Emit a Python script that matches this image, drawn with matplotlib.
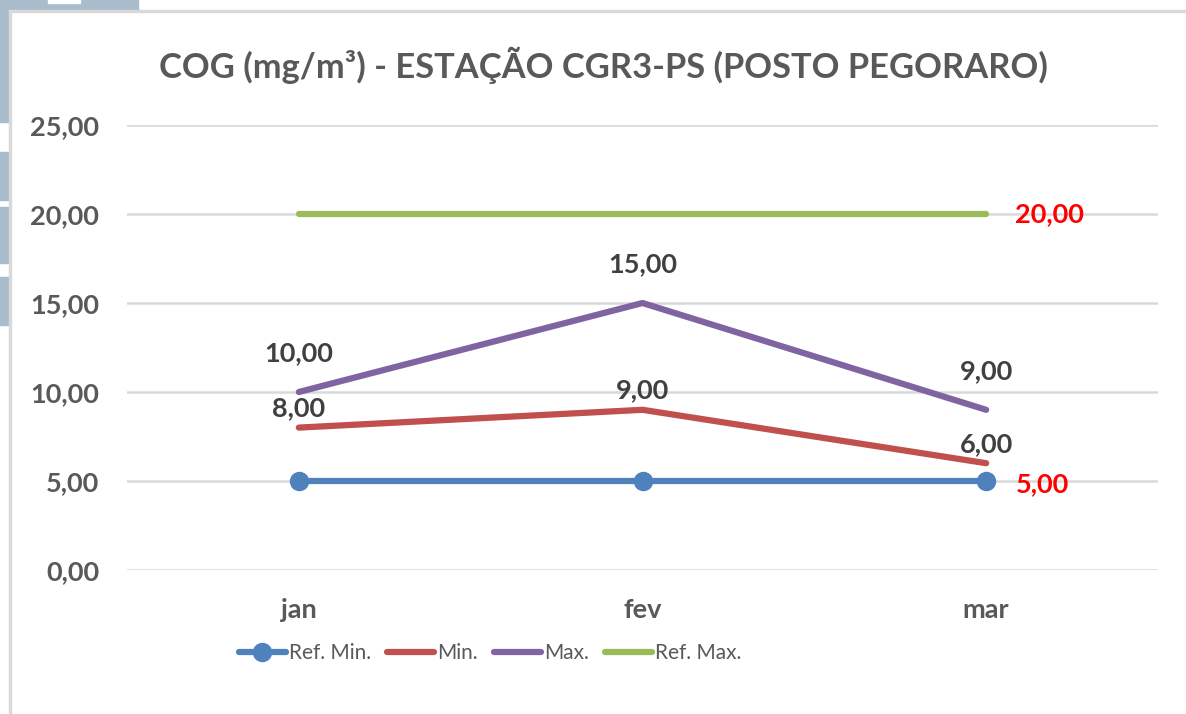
import matplotlib.pyplot as plt
from matplotlib.patches import Rectangle

# data
months = ["jan", "fev", "mar"]
ref_min = [5.0, 5.0, 5.0]
val_min = [8.0, 9.0, 6.0]
val_max = [10.0, 15.0, 9.0]
ref_max = [20.0, 20.0, 20.0]
y_ticks = [0, 5, 10, 15, 20, 25]

title = "COG (mg/m³) - ESTAÇÃO CGR3-PS (POSTO PEGORARO)"

BLUE = "#4F81BD"
RED = "#C0504D"
PURPLE = "#8064A2"
GREEN = "#9BBB59"
GRID = "#D9D9D9"
TXT = "#595959"
LBL = "#404040"

plt.rcParams["font.family"] = ["Lato", "DejaVu Sans"]

W, H = 1186, 714
fig = plt.figure(figsize=(W / 100, H / 100), dpi=100)

# screenshot background bits (blue-gray strip on the left / top-left)
bg = "#A9BCCB"
def px_rect(x0, y0, x1, y1, color):
    fig.patches.append(Rectangle((x0 / W, 1 - y1 / H), (x1 - x0) / W, (y1 - y0) / H,
                                 transform=fig.transFigure, color=color, zorder=0))

px_rect(0, 0, 138, 11, bg)
px_rect(48, 0, 80, 3, "white")
px_rect(0, 0, 9, 122, bg)
px_rect(0, 152, 9, 200, bg)
px_rect(0, 207, 9, 263, bg)
px_rect(0, 277, 9, 325, bg)
# chart frame
px_rect(9, 10, W, 12, GRID)
px_rect(9, 10, 11, H, GRID)

ax = fig.add_axes([127 / W, 1 - 570 / H, (1158 - 127) / W, (570 - 125) / H])
ax.set_facecolor("none")
x = list(range(len(months)))

ax.plot(x, ref_min, color=BLUE, lw=4.5, marker="o", ms=13, solid_capstyle="round",
        label="Ref. Min.", zorder=3)
ax.plot(x, val_min, color=RED, lw=4.5, solid_capstyle="round", label="Min.", zorder=3)
ax.plot(x, val_max, color=PURPLE, lw=4.5, solid_capstyle="round", label="Max.", zorder=3)
ax.plot(x, ref_max, color=GREEN, lw=4.5, solid_capstyle="round", label="Ref. Max.", zorder=3)

def fmt(v):
    return f"{v:.2f}".replace(".", ",")

for xi, v in zip(x, val_max):
    ax.annotate(fmt(v), (xi, v), xytext=(0, 28), textcoords="offset points",
                ha="center", va="center", fontsize=19.5, fontweight="bold", color=LBL)
for xi, v in zip(x, val_min):
    ax.annotate(fmt(v), (xi, v), xytext=(0, 14), textcoords="offset points",
                ha="center", va="center", fontsize=19.5, fontweight="bold", color=LBL)

# reference limits labelled at the right end
ax.annotate(fmt(ref_max[-1]), (x[-1], ref_max[-1]), xytext=(21, 0), textcoords="offset points",
            ha="left", va="center", fontsize=19.5, fontweight="bold", color="#FF0000")
ax.annotate(fmt(ref_min[-1]), (x[-1], ref_min[-1]), xytext=(21, -2), textcoords="offset points",
            ha="left", va="center", fontsize=19.5, fontweight="bold", color="#FF0000")

ax.set_xlim(-0.5, 2.5)
ax.set_ylim(0, 25)
ax.set_yticks(y_ticks)
ax.set_yticklabels([fmt(v) for v in y_ticks])
ax.set_xticks(x)
ax.set_xticklabels(months)
ax.grid(axis="y", color=GRID, lw=1.8)
ax.set_axisbelow(True)
for s in ax.spines.values():
    s.set_visible(False)
ax.tick_params(axis="both", length=0, labelsize=19.5, labelcolor=TXT)
ax.tick_params(axis="y", pad=20)
ax.tick_params(axis="x", pad=20)
for t in ax.get_xticklabels() + ax.get_yticklabels():
    t.set_fontweight("bold")

fig.text(603 / W, 1 - 65 / H, title, ha="center", va="center",
         fontsize=24.8, fontweight="bold", color=TXT)

leg = ax.legend(loc="center", bbox_to_anchor=(490 / W, 1 - 653 / H),
                bbox_transform=fig.transFigure, ncol=4, frameon=False,
                fontsize=15, handlelength=2.25, handletextpad=0.15, columnspacing=0.77,
                labelcolor=TXT)

fig.savefig("out.png", dpi=100, facecolor="white")
